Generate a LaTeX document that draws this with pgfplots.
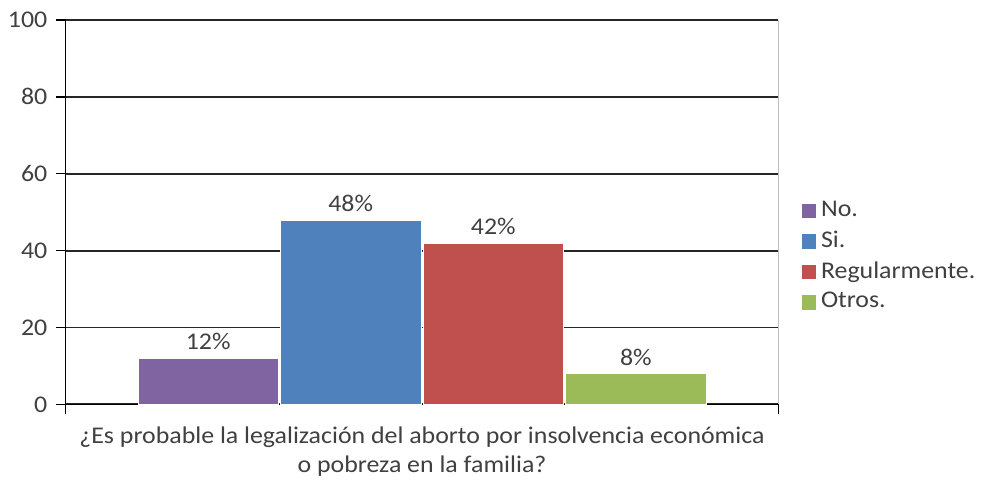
\documentclass[border=0pt]{standalone}
\usepackage{fontspec}
\setmainfont{Carlito}[FakeStretch=1.08]
\usepackage{pgfplots}
\pgfplotsset{compat=1.18}

\definecolor{cNo}{HTML}{8064A2}
\definecolor{cSi}{HTML}{4F81BD}
\definecolor{cReg}{HTML}{C0504D}
\definecolor{cOtr}{HTML}{9BBB59}
\definecolor{txt}{HTML}{404040}

\begin{document}
\fontsize{18}{21}\selectfont
\begin{tikzpicture}
\begin{axis}[
  scale only axis,
  width=535.5pt, height=288.75pt,
  xmin=0, xmax=5, ymin=0, ymax=100,
  axis lines=left,
  axis line style={-, black, line width=1.1pt},
  xtick={0,5}, xticklabels={},
  ytick={0,20,...,100},
  tick align=outside,
  major tick length=7.5pt,
  tick style={black, line width=1.1pt},
  ymajorgrids,
  grid style={black!85, line width=1.4pt},
  /pgf/number format/assume math mode=true,
  ticklabel style={font=\fontsize{18}{21}\selectfont, text=txt},
  xlabel={¿Es probable la legalización del aborto por insolvencia económica\\[1pt]o pobreza en la familia?},
  xlabel style={align=center, text=txt, font=\fontsize{18}{21}\selectfont, yshift=9pt},
  bar width=0.985,
  nodes near coords={\pgfmathprintnumber{\pgfplotspointmeta}\%},
  every node near coord/.append style={text=txt, font=\fontsize{18}{21}\selectfont},
  legend style={at={(1.025,0.385)}, anchor=west, draw=none, fill=none,
    font=\fontsize{18}{21}\selectfont, text=txt,
    row sep=5pt, nodes={inner sep=1.5pt, inner xsep=3.5pt}},
  legend cell align=left,
  legend image code/.code={\fill[#1] (0pt,-6pt) rectangle (11.5pt,5.5pt);},
  after end axis/.code={
    \draw[black!25, line width=0.8pt] (rel axis cs:1,0) -- (rel axis cs:1,1);
    \path (rel axis cs:0,1) ++(0pt,15pt);
  },
]
\addplot[ybar, bar shift=0pt, fill=cNo, draw=white] coordinates {(1,12)};
\addlegendentry{No.}
\addplot[ybar, bar shift=0pt, fill=cSi, draw=white] coordinates {(2,48)};
\addlegendentry{Si.}
\addplot[ybar, bar shift=0pt, fill=cReg, draw=white] coordinates {(3,42)};
\addlegendentry{Regularmente.}
\addplot[ybar, bar shift=0pt, fill=cOtr, draw=white] coordinates {(4,8)};
\addlegendentry{Otros.}
\end{axis}
\end{tikzpicture}
\end{document}
